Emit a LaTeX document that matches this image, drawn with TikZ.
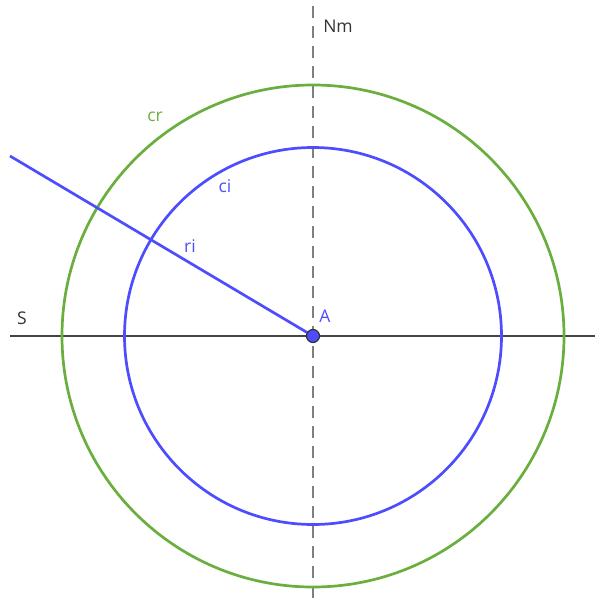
\documentclass[tikz,border=0pt]{standalone}
\usepackage{fontspec}
\setmainfont{Open Sans}
\usetikzlibrary{backgrounds}
\definecolor{ggblue}{HTML}{4D4DFF}
\definecolor{gggreen}{HTML}{6AAF3D}
\definecolor{ggline}{HTML}{444444}
\definecolor{ggdash}{HTML}{808080}

\begin{document}
\begin{tikzpicture}[x=1pt,y=-1pt,every node/.style={font=\fontsize{17.5}{20}\selectfont,inner sep=0pt}]
	\useasboundingbox (0,0) rectangle (595,605);
	\coordinate (Sl) at (10,336); \coordinate (Sr) at (595,336);
	\coordinate (Nt) at (313,6); \coordinate (Nb) at (313,605);
	\coordinate (R) at (10,156);
	\node[circle, fill=ggblue, draw=black!80, line width=1.2pt, minimum size=13pt] (A) at (313,336) {};
	\begin{scope}[on background layer]
	\draw[ggline, line width=2pt] (Sl) -- (Sr);
	\draw[ggdash, line width=2pt, dash pattern=on 12pt off 8pt] (Nt) -- (Nb);
	\draw[gggreen, line width=2.7pt] (A.center) circle (251);
	\draw[ggblue, line width=2.7pt] (A.center) circle (188.5);
	\draw[ggblue, line width=2.7pt] (R) -- (A.center);
	\end{scope}
	\node[black!80] (nm) at (338,26) {Nm};
	\node[black!80] (s) at (22,318) {S};
	\node[ggblue] (a) at (325,316) {A};
	\node[gggreen] (cr) at (155,117) {cr};
	\node[ggblue] (ci) at (225,186) {ci};
	\node[ggblue] (ri) at (190,246) {ri};
\end{tikzpicture}
\end{document}
